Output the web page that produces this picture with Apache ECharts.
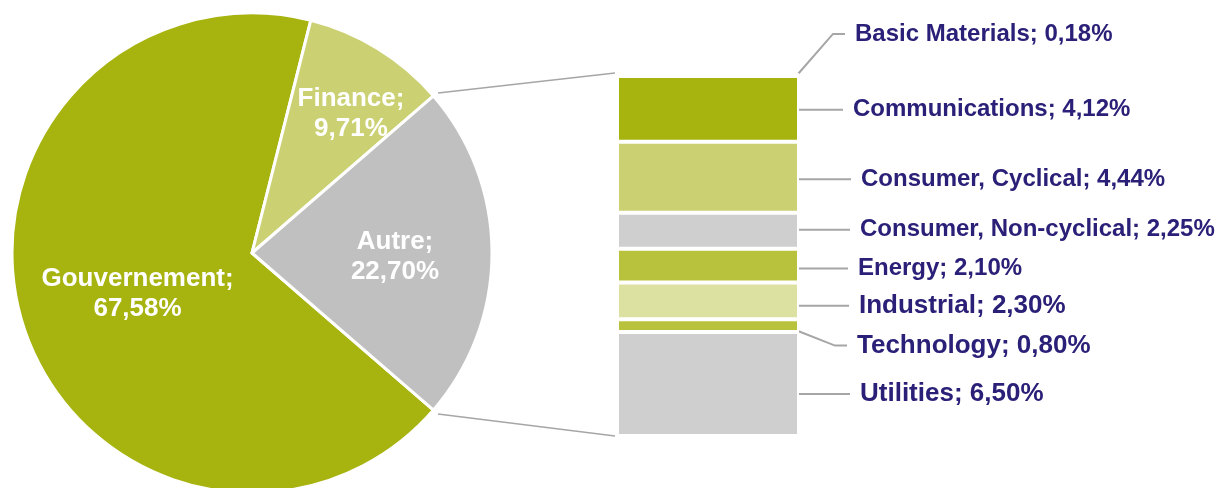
<!DOCTYPE html>
<html><head><meta charset="utf-8">
<script src="https://cdn.jsdelivr.net/npm/echarts@6/dist/echarts.min.js"></script>
<style>html,body{margin:0;padding:0;background:#fff}#c{width:1218px;height:488px}</style>
</head><body><div id="c"></div>
<script>
// ---- data ----
const pieNames = ['Gouvernement', 'Finance', 'Autre'];
const pieValues = [67.58, 9.71, 22.70];
const sectorNames = ['Basic Materials', 'Communications', 'Consumer, Cyclical', 'Consumer, Non-cyclical', 'Energy', 'Industrial', 'Technology', 'Utilities'];
const sectorValues = [0.18, 4.12, 4.44, 2.25, 2.10, 2.30, 0.80, 6.50];

// ---- styles / layout ----
const pieColors = ['#A7B410', '#CBD173', '#C0C0C0'];
const sectorColors = ['#A7B410', '#A7B410', '#CBD173', '#CFCFCF', '#B8C23C', '#DCE1A1', '#B8C23C', '#CFCFCF'];
const sectorFontSize = [24, 24, 24, 24, 24, 26, 26, 26];
const labelTextX = [855, 853, 861, 860, 858, 859, 857, 860];
const labelDy = [-40.5, 1, 2, -1, 3, 5, 20, 10];
const pieLabelRadius = [0.5, 0.5, 0.5];
const pieLabelShift = [[0, 4.5], [36, -37], [23, 4]];
const PIE_C = [252, 253], PIE_R = 240;
const BAR = { left: 617, top: 73, width: 182, height: 363 };
const FONT = '"Liberation Sans", Arial, sans-serif';
const LABEL_GAP = 10;

const fmt = v => v.toFixed(2).replace('.', ',') + '%';
const total = pieValues.reduce((a, b) => a + b, 0);
const autreIdx = pieNames.indexOf('Autre');
const halfAutreDeg = pieValues[autreIdx] / total * 180;
const startAngle = 360 - halfAutreDeg;
const sectorTotal = sectorValues.reduce((a, b) => a + b, 0);

// mid angle (degrees, counter-clockwise from 3 o'clock) of each slice, drawn clockwise from startAngle
const pieMidAngles = (() => {
  let a = startAngle; const out = [];
  pieValues.forEach(v => { const span = v / total * 360; out.push(a - span / 2); a -= span; });
  return out;
})();

const chart = echarts.init(document.getElementById('c'), null, { renderer: 'canvas' });

const barSeries = sectorNames.map((n, i) => ({
  type: 'bar', name: n, stack: 's', data: [sectorValues[i]], barWidth: '100%',
  silent: true,
  itemStyle: { color: sectorColors[i], borderColor: '#fff', borderWidth: 2 },
  label: {
    show: true, position: 'right',
    formatter: p => '{g|}' + p.seriesName + '; ' + fmt(p.value),
    color: '#2A2078', fontWeight: 'bold', fontSize: sectorFontSize[i], fontFamily: FONT,
    rich: { g: { width: LABEL_GAP } }
  },
  labelLine: { show: true, length2: 12, lineStyle: { color: '#A6A6A6', width: 2 } },
  labelLayout: p => ({
    x: labelTextX[i] - LABEL_GAP,
    y: p.rect.y + p.rect.height / 2 + labelDy[i],
    align: 'left', verticalAlign: 'middle'
  })
}));

chart.setOption({
  animation: false,
  backgroundColor: '#fff',
  grid: { left: BAR.left, top: BAR.top, width: BAR.width, height: BAR.height, containLabel: false },
  xAxis: { type: 'category', data: [''], show: false },
  yAxis: { type: 'value', min: 0, max: sectorTotal, inverse: true, show: false },
  series: [
    {
      type: 'pie', center: PIE_C, radius: PIE_R, startAngle: startAngle, clockwise: true,
      silent: true, avoidLabelOverlap: false,
      itemStyle: { borderColor: '#fff', borderWidth: 3 },
      label: {
        show: true, position: 'inside',
        formatter: p => p.name + ';\n' + fmt(p.value),
        color: '#fff', fontWeight: 'bold', fontSize: 26, lineHeight: 30, fontFamily: FONT
      },
      labelLine: { show: false },
      labelLayout: p => {
        const i = p.dataIndex, a = pieMidAngles[i] * Math.PI / 180, k = pieLabelRadius[i] * PIE_R;
        return {
          x: PIE_C[0] + k * Math.cos(a) + pieLabelShift[i][0],
          y: PIE_C[1] - k * Math.sin(a) + pieLabelShift[i][1],
          align: 'center', verticalAlign: 'middle'
        };
      },
      data: pieNames.map((n, i) => ({ name: n, value: pieValues[i], itemStyle: { color: pieColors[i] } }))
    },
    ...barSeries
  ]
});

// connector lines from pie "Autre" slice to the stacked bar
const rad = a => a * Math.PI / 180;
const rr = PIE_R + 6;
const pTop = [PIE_C[0] + rr * Math.cos(rad(halfAutreDeg)), PIE_C[1] - rr * Math.sin(rad(halfAutreDeg)) + 1];
const pBot = [PIE_C[0] + rr * Math.cos(rad(halfAutreDeg)), PIE_C[1] + rr * Math.sin(rad(halfAutreDeg))];
const yTop = chart.convertToPixel({ yAxisIndex: 0 }, 0);
const yBot = chart.convertToPixel({ yAxisIndex: 0 }, sectorTotal);
const xL = BAR.left - 2;
chart.setOption({
  graphic: [
    { type: 'line', silent: true, shape: { x1: pTop[0], y1: pTop[1], x2: xL, y2: yTop }, style: { stroke: '#A6A6A6', lineWidth: 1.5 } },
    { type: 'line', silent: true, shape: { x1: pBot[0], y1: pBot[1], x2: xL, y2: yBot }, style: { stroke: '#A6A6A6', lineWidth: 1.5 } }
  ]
});
</script>
</body></html>
